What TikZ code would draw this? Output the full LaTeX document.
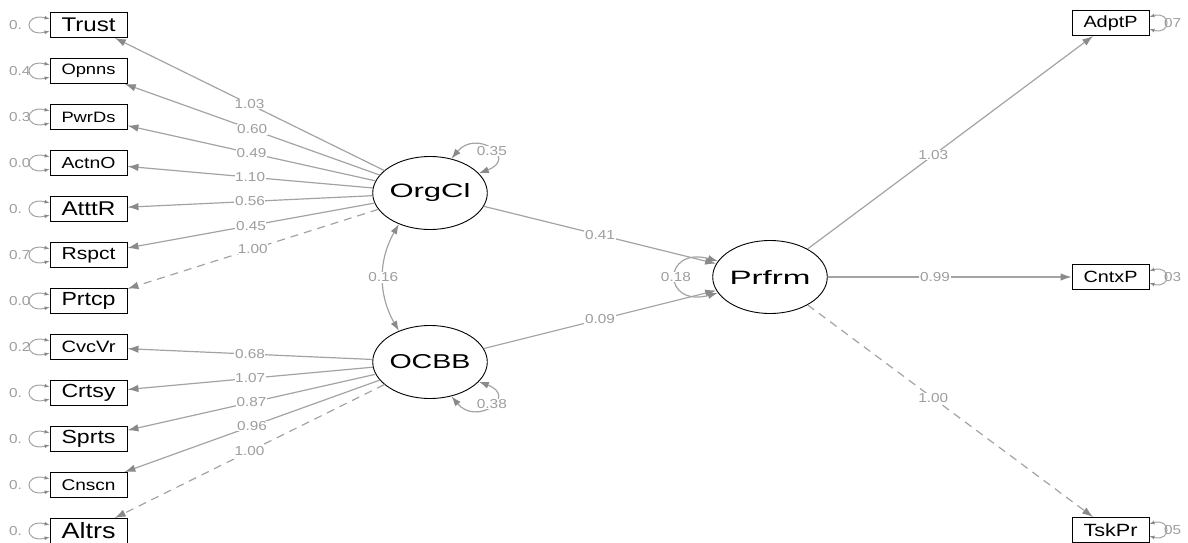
\documentclass[tikz,border=0pt]{standalone}
\usepackage{fontspec}
\setmainfont{Liberation Sans}
\usepackage{graphicx}
\usetikzlibrary{arrows.meta,shapes.geometric}
\newcommand{\boxlbl}[1]{\scalebox{1}[0.82]{\resizebox{54pt}{!}{#1}}}
\newcommand{\latlbl}[1]{\resizebox{81pt}{14pt}{#1}}
\newcommand{\numlbl}[1]{\scalebox{1.18}[1]{#1}}
\definecolor{edgegray}{HTML}{A3A3A3}
\definecolor{tipgray}{HTML}{8A8A8A}
\definecolor{lblgray}{HTML}{9E9E9E}
\tikzset{
  ind/.style={draw=black, line width=0.9pt, minimum width=77pt, minimum height=25pt, inner sep=0pt, font=\fontsize{16}{18}\selectfont},
  lat/.style={draw=black, ellipse, line width=0.9pt, minimum width=110pt, minimum height=73pt, inner sep=0pt, font=\fontsize{18}{20}\selectfont},
  ld/.style={draw=edgegray, line width=1.2pt, -{Latex[length=11pt,width=7.5pt,color=tipgray]}},
  dsh/.style={dash pattern=on 8pt off 6pt},
  cov/.style={draw=edgegray, line width=1.2pt, {Latex[length=10pt,width=7pt,color=tipgray]}-{Latex[length=10pt,width=7pt,color=tipgray]}},
  res/.style={draw=edgegray, line width=1pt, {Latex[length=5pt,width=4pt,color=tipgray]}-{Latex[length=5pt,width=4pt,color=tipgray]}},
  lbl/.style={fill=white, inner sep=0.6pt, text=lblgray, font=\fontsize{13}{15}\selectfont},
  rlbl/.style={inner sep=0pt, text=lblgray, font=\fontsize{13}{15}\selectfont},
}
\begin{document}
\begin{tikzpicture}[x=1pt,y=1pt]
\useasboundingbox (0,0) rectangle (1188,542);
% latent variables
\node[lat] (OrgCl) at (430,349) {\latlbl{OrgCl}};
\node[lat] (OCBB) at (430,180) {\latlbl{OCBB}};
\node[lat] (Prfrm) at (770,265) {\latlbl{Prfrm}};
% left indicators
\node[ind] (Trust) at (88.5,517) {\boxlbl{Trust}};
\node[ind] (Opnns) at (88.5,471) {\boxlbl{Opnns}};
\node[ind] (PwrDs) at (88.5,425) {\boxlbl{PwrDs}};
\node[ind] (ActnO) at (88.5,379) {\boxlbl{ActnO}};
\node[ind] (AtttR) at (88.5,333) {\boxlbl{AtttR}};
\node[ind] (Rspct) at (88.5,287) {\boxlbl{Rspct}};
\node[ind] (Prtcp) at (88.5,241) {\boxlbl{Prtcp}};
\node[ind] (CvcVr) at (88.5,195) {\boxlbl{CvcVr}};
\node[ind] (Crtsy) at (88.5,149) {\boxlbl{Crtsy}};
\node[ind] (Sprts) at (88.5,103) {\boxlbl{Sprts}};
\node[ind] (Cnscn) at (88.5,57) {\boxlbl{Cnscn}};
\node[ind] (Altrs) at (88.5,11) {\boxlbl{Altrs}};
% right indicators
\node[ind] (AdptP) at (1110.5,519) {\boxlbl{AdptP}};
\node[ind] (CntxP) at (1110.5,265) {\boxlbl{CntxP}};
\node[ind] (TskPr) at (1110.5,12) {\boxlbl{TskPr}};
% loadings OrgCl
\draw[ld] (OrgCl) -- node[lbl]{\numlbl{1.03}} (Trust);
\draw[ld] (OrgCl) -- node[lbl]{\numlbl{0.60}} (Opnns);
\draw[ld] (OrgCl) -- node[lbl]{\numlbl{0.49}} (PwrDs);
\draw[ld] (OrgCl) -- node[lbl]{\numlbl{1.10}} (ActnO);
\draw[ld] (OrgCl) -- node[lbl]{\numlbl{0.56}} (AtttR);
\draw[ld] (OrgCl) -- node[lbl]{\numlbl{0.45}} (Rspct);
\draw[ld,dsh] (OrgCl) -- node[lbl]{\numlbl{1.00}} (Prtcp);
% loadings OCBB
\draw[ld] (OCBB) -- node[lbl]{\numlbl{0.68}} (CvcVr);
\draw[ld] (OCBB) -- node[lbl]{\numlbl{1.07}} (Crtsy);
\draw[ld] (OCBB) -- node[lbl]{\numlbl{0.87}} (Sprts);
\draw[ld] (OCBB) -- node[lbl]{\numlbl{0.96}} (Cnscn);
\draw[ld,dsh] (OCBB) -- node[lbl]{\numlbl{1.00}} (Altrs);
% loadings Prfrm
\draw[ld] (Prfrm) -- node[lbl,pos=0.44]{\numlbl{1.03}} (AdptP);
\draw[ld] (Prfrm) -- node[lbl,pos=0.44]{\numlbl{0.99}} (CntxP);
\draw[ld,dsh] (Prfrm) -- node[lbl,pos=0.44]{\numlbl{1.00}} (TskPr);
% structural paths
\draw[ld] (OrgCl) -- node[lbl]{\numlbl{0.41}} (Prfrm);
\draw[ld] (OCBB) -- node[lbl]{\numlbl{0.09}} (Prfrm);
% covariance
\draw[cov] (OrgCl.225) to[bend right=30] node[lbl]{\numlbl{0.16}} (OCBB.135);
% latent variances
\draw[cov] (OrgCl.58) .. controls +(25,30) and +(40,15) .. node[lbl,pos=0.55]{\numlbl{0.35}} (OrgCl.22);
\draw[cov] (OCBB.-58) .. controls +(25,-30) and +(40,-15) .. node[lbl,pos=0.55]{\numlbl{0.38}} (OCBB.-22);
\draw[cov] (Prfrm.163) .. controls +(-56,15) and +(-56,-15) .. node[lbl]{\numlbl{0.18}} (Prfrm.197);
% residual labels (left)
\node[rlbl,anchor=west] (rTrust) at (9,517) {\numlbl{0.}};
\node[rlbl,anchor=west] (rOpnns) at (9,471) {\numlbl{0.4}};
\node[rlbl,anchor=west] (rPwrDs) at (9,425) {\numlbl{0.3}};
\node[rlbl,anchor=west] (rActnO) at (9,379) {\numlbl{0.0}};
\node[rlbl,anchor=west] (rAtttR) at (9,333) {\numlbl{0.}};
\node[rlbl,anchor=west] (rRspct) at (9,287) {\numlbl{0.7}};
\node[rlbl,anchor=west] (rPrtcp) at (9,241) {\numlbl{0.0}};
\node[rlbl,anchor=west] (rCvcVr) at (9,195) {\numlbl{0.2}};
\node[rlbl,anchor=west] (rCrtsy) at (9,149) {\numlbl{0.}};
\node[rlbl,anchor=west] (rSprts) at (9,103) {\numlbl{0.}};
\node[rlbl,anchor=west] (rCnscn) at (9,57) {\numlbl{0.}};
\node[rlbl,anchor=west] (rAltrs) at (9,11) {\numlbl{0.}};
% residual labels (right)
\node[rlbl,anchor=west] (rAdptP) at (1164,519) {\numlbl{07}};
\node[rlbl,anchor=west] (rCntxP) at (1164,265) {\numlbl{03}};
\node[rlbl,anchor=west] (rTskPr) at (1164,12) {\numlbl{05}};
% residual loops
\foreach \n in {Trust,Opnns,PwrDs,ActnO,AtttR,Rspct,Prtcp,CvcVr,Crtsy,Sprts,Cnscn,Altrs}{
  \draw[res] (\n.171) .. controls +(-26,6) and +(-26,-6) .. (\n.189);
}
\foreach \n in {AdptP,CntxP,TskPr}{
  \draw[res] (\n.9) .. controls +(22,6) and +(22,-6) .. (\n.-9);
}
\end{tikzpicture}
\end{document}
